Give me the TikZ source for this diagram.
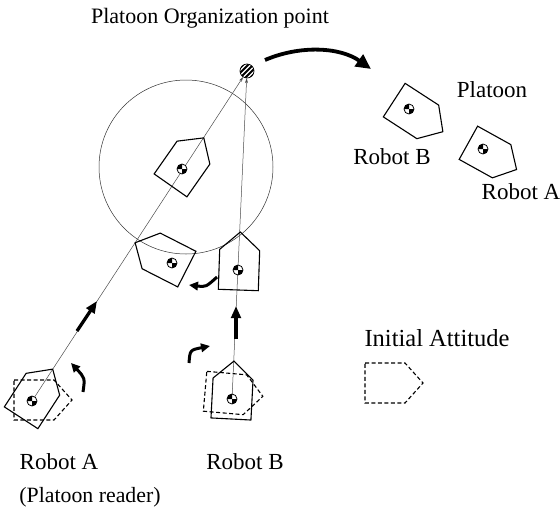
\documentclass[tikz,border=0pt]{standalone}
\usepackage{fontspec}
\setmainfont{Liberation Serif}
\usetikzlibrary{arrows.meta}
\begin{document}
\begin{tikzpicture}[x=1pt,y=-1pt,
  robot/.pic={\draw[line width=1.1pt,pic actions] (-20,-20) -- (20,-20) -- (38,0) -- (20,20) -- (-20,20) -- cycle;},
  cmark/.pic={\fill[white] (0,0) circle (5);
    \fill (0,0) -- (5,0) arc (0:90:5) -- cycle;
    \fill (0,0) -- (-5,0) arc (180:270:5) -- cycle;
    \draw[line width=0.8pt] (0,0) circle (5);},
  initdash/.style={dash pattern=on 4pt off 2.5pt},
  guide/.style={draw=black!70, line width=0.5pt, -{Stealth[length=5pt,width=3pt]}},
  move/.style={line width=3.2pt, -{Triangle[length=12pt,width=9.5pt]}},
  turn/.style={line width=3pt, -{Triangle[length=9pt,width=8.5pt]}},
  lbl/.style={font=\fontsize{23}{26}\selectfont, inner sep=0pt}
]
\useasboundingbox (0,0) rectangle (560,507);

% texts
\node[lbl, font=\fontsize{22}{26}\selectfont] (title) at (210,18) {Platoon Organization point};
\node[lbl] (tplatoon) at (492,90) {Platoon};
\node[lbl] (tRBup) at (392,157) {Robot B};
\node[lbl] (tRAup) at (521,192) {Robot A};
\node[lbl, font=\fontsize{24.5}{28}\selectfont] (tinit) at (437,338) {Initial Attitude};
\node[lbl] (tRA) at (59,462) {Robot A};
\node[lbl, font=\fontsize{21.8}{25}\selectfont] (tlead) at (90,497) {(Platoon reader)};
\node[lbl] (tRB) at (245,462) {Robot B};

% big circle
\draw[black!80, line width=0.5pt] (186,167) circle (87);

% organization point
\node[circle, minimum size=14pt, inner sep=0pt] (org) at (247,71) {};
\begin{scope}
  \clip (247,71) circle (7);
  \begin{scope}[shift={(247,71)}]
  \foreach \d in {-10,-5,0,5,10} \draw[line width=1.8pt] (\d-10,10) -- (\d+10,-10);
  \end{scope}
\end{scope}
\draw[line width=0.7pt] (247,71) circle (7);

% robot centres
\coordinate (rA0) at (32,401);
\coordinate (rB0) at (232,399);

% guide lines to organization point
\draw[guide] (rA0) -- (org);
\draw[guide] (rB0) -- (org);

% robot A start
\pic[initdash] (rAi) at (34,400) {robot};
\pic[rotate=57] (rAs) at (32,401) {robot};
\pic (rAm) at (32,401) {cmark};

% robot B start
\pic[initdash, rotate=-5] (rBi) at (225,393) {robot};
\pic[rotate=87] (rBs) at (232,399) {robot};
\pic (rBm) at (232,399) {cmark};

% robot B at circle
\pic[rotate=88] (rBc) at (239,270) {robot};
\pic (rBcm) at (238,270) {cmark};

% turned robot at circle
\pic[rotate=153] (rT) at (169,260) {robot};
\pic (rTm) at (172,263) {cmark};

% robot A inside circle
\pic[rotate=55] (rAc) at (182,169) {robot};
\pic (rAcm) at (182,169) {cmark};

% platoon robots
\pic[rotate=-33] (pB) at (411,111) {robot};
\pic (pBm) at (409,109) {cmark};
\pic[rotate=-29, scale=0.95] (pA) at (485,152) {robot};
\pic (pAm) at (483,149) {cmark};

% legend initial attitude
\pic[initdash] (leg) at (385,383) {robot};

% motion arrows
\coordinate (mA1) at (77,331);
\coordinate (mA2) at (97,301);
\draw[move] (mA1) -- (mA2);
\coordinate (mB1) at (236,339);
\coordinate (mB2) at (236,306);
\draw[move] (mB1) -- (mB2);

% turning arrows
\coordinate (tA1) at (83,392);
\coordinate (tA2) at (71,363);
\draw[turn] (tA1) .. controls (85,378) .. (tA2);
\coordinate (tB1) at (189,363);
\coordinate (tB2) at (210,346);
\draw[turn] (tB1) .. controls (190,350) .. (tB2);
\coordinate (tC1) at (217,277);
\coordinate (tC2) at (189,285);
\draw[turn] (tC1) .. controls (206,287) .. (tC2);

% big arrow to platoon
\coordinate (bg1) at (265,60);
\coordinate (bg2) at (371,69);
\draw[line width=3.8pt, -{Triangle[length=15pt,width=14pt]}] (bg1) .. controls (300,45) and (340,47) .. (bg2);
\end{tikzpicture}
\end{document}
